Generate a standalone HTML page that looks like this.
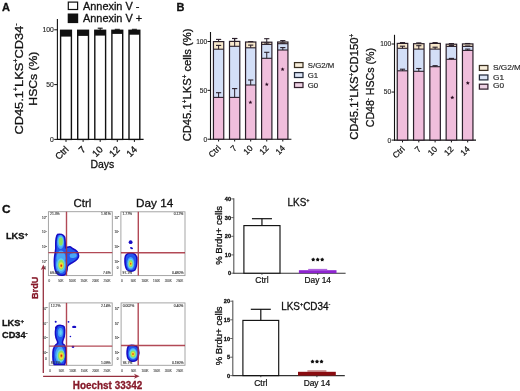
<!DOCTYPE html>
<html><head><meta charset="utf-8"><style>
html,body{margin:0;padding:0;background:#fff;}
svg{display:block;font-family:"Liberation Sans", sans-serif;filter:blur(0.35px);}
</style></head><body>
<svg width="520" height="391" viewBox="0 0 520 391">
<defs><filter id="bl" x="-20%" y="-20%" width="140%" height="140%"><feGaussianBlur stdDeviation="0.5"/></filter></defs>
<rect width="520" height="391" fill="#fff"/>
<text x="2" y="10.6" font-size="11" text-anchor="start" font-weight="bold" fill="#111"  stroke="#111" stroke-width="0.3">A</text>
<rect x="68.30" y="2.10" width="9.30" height="7.40" fill="#fff" stroke="#111" stroke-width="1.2"/>
<rect x="67.70" y="13.50" width="10.50" height="9.60" fill="#111" stroke="none" stroke-width="0"/>
<text transform="translate(83,9.5) scale(1.04,1)" font-size="10.5" fill="#111" stroke="#111" stroke-width="0.3">Annexin V -</text>
<text transform="translate(83,21.8) scale(1.04,1)" font-size="10.5" fill="#111" stroke="#111" stroke-width="0.3">Annexin V +</text>
<text transform="translate(23.2,79) rotate(-90) scale(1.105,1)" font-size="11.6" text-anchor="middle" fill="#111" stroke="#111" stroke-width="0.3">CD45.1<tspan baseline-shift="4.64" font-size="6.50">+</tspan>LKS<tspan baseline-shift="4.64" font-size="6.50">+</tspan>CD34<tspan baseline-shift="4.64" font-size="6.50">-</tspan></text>
<text transform="translate(37.4,78.6) rotate(-90) scale(1.05,1)" font-size="11.6" text-anchor="middle" fill="#111" stroke="#111" stroke-width="0.3">HSCs (%)</text>
<line x1="57.4" y1="19" x2="57.4" y2="139.9" stroke="#111" stroke-width="1.1"/>
<line x1="56.9" y1="139.4" x2="143.6" y2="139.4" stroke="#111" stroke-width="1.1"/>
<line x1="54.2" y1="29.8" x2="57.4" y2="29.8" stroke="#111" stroke-width="1"/>
<text x="53.8" y="32.2" font-size="6.8" text-anchor="end" font-weight="normal" fill="#222"  stroke="#222" stroke-width="0.12">100</text>
<line x1="54.2" y1="84.60000000000001" x2="57.4" y2="84.60000000000001" stroke="#111" stroke-width="1"/>
<text x="53.8" y="87.00000000000001" font-size="6.8" text-anchor="end" font-weight="normal" fill="#222"  stroke="#222" stroke-width="0.12">50</text>
<line x1="54.2" y1="139.4" x2="57.4" y2="139.4" stroke="#111" stroke-width="1"/>
<text x="53.8" y="141.8" font-size="6.8" text-anchor="end" font-weight="normal" fill="#222"  stroke="#222" stroke-width="0.12">0</text>
<rect x="60.60" y="30.30" width="10.80" height="109.10" fill="#fff" stroke="#111" stroke-width="1.4"/>
<rect x="60.60" y="30.30" width="10.80" height="6.30" fill="#111" stroke="none" stroke-width="0"/>
<line x1="66.0" y1="139.4" x2="66.0" y2="141.9" stroke="#111" stroke-width="1"/>
<rect x="77.70" y="30.30" width="10.80" height="109.10" fill="#fff" stroke="#111" stroke-width="1.4"/>
<rect x="77.70" y="30.30" width="10.80" height="5.60" fill="#111" stroke="none" stroke-width="0"/>
<line x1="83.1" y1="139.4" x2="83.1" y2="141.9" stroke="#111" stroke-width="1"/>
<rect x="94.80" y="30.30" width="10.80" height="109.10" fill="#fff" stroke="#111" stroke-width="1.4"/>
<rect x="94.80" y="30.30" width="10.80" height="5.30" fill="#111" stroke="none" stroke-width="0"/>
<line x1="100.2" y1="139.4" x2="100.2" y2="141.9" stroke="#111" stroke-width="1"/>
<rect x="111.90" y="30.30" width="10.80" height="109.10" fill="#fff" stroke="#111" stroke-width="1.4"/>
<rect x="111.90" y="30.30" width="10.80" height="3.60" fill="#111" stroke="none" stroke-width="0"/>
<line x1="117.30000000000001" y1="139.4" x2="117.30000000000001" y2="141.9" stroke="#111" stroke-width="1"/>
<rect x="129.00" y="30.30" width="10.80" height="109.10" fill="#fff" stroke="#111" stroke-width="1.4"/>
<rect x="129.00" y="30.30" width="10.80" height="4.40" fill="#111" stroke="none" stroke-width="0"/>
<line x1="134.4" y1="139.4" x2="134.4" y2="141.9" stroke="#111" stroke-width="1"/>
<line x1="100.2" y1="28.2" x2="100.2" y2="30.5" stroke="#111" stroke-width="1"/>
<line x1="97.7" y1="28.2" x2="102.7" y2="28.2" stroke="#111" stroke-width="1.1"/>
<line x1="114.80000000000001" y1="29.3" x2="119.80000000000001" y2="29.3" stroke="#111" stroke-width="1.0"/>
<line x1="131.9" y1="29.3" x2="136.9" y2="29.3" stroke="#111" stroke-width="1.0"/>
<text transform="translate(69.2,150.0) rotate(-45)" font-size="9.4" text-anchor="end" fill="#111" stroke="#111" stroke-width="0.3">Ctrl</text>
<text transform="translate(86.3,150.0) rotate(-45)" font-size="9.4" text-anchor="end" fill="#111" stroke="#111" stroke-width="0.3">7</text>
<text transform="translate(103.4,150.0) rotate(-45)" font-size="9.4" text-anchor="end" fill="#111" stroke="#111" stroke-width="0.3">10</text>
<text transform="translate(120.5,150.0) rotate(-45)" font-size="9.4" text-anchor="end" fill="#111" stroke="#111" stroke-width="0.3">12</text>
<text transform="translate(137.6,150.0) rotate(-45)" font-size="9.4" text-anchor="end" fill="#111" stroke="#111" stroke-width="0.3">14</text>
<text transform="translate(102.3,168.1) scale(0.97,1)" font-size="10.8" text-anchor="middle" fill="#111" stroke="#111" stroke-width="0.3">Days</text>
<text x="176.6" y="10.7" font-size="11" text-anchor="start" font-weight="bold" fill="#111"  stroke="#111" stroke-width="0.3">B</text>
<line x1="210.5" y1="32" x2="210.5" y2="139.7" stroke="#111" stroke-width="1.1"/>
<line x1="210.0" y1="139.2" x2="291.4" y2="139.2" stroke="#111" stroke-width="1.1"/>
<line x1="207.5" y1="41.5" x2="210.5" y2="41.5" stroke="#111" stroke-width="1"/>
<text x="207.2" y="43.9" font-size="6.6" text-anchor="end" font-weight="normal" fill="#222"  stroke="#222" stroke-width="0.12">100</text>
<line x1="207.5" y1="90.35" x2="210.5" y2="90.35" stroke="#111" stroke-width="1"/>
<text x="207.2" y="92.75" font-size="6.6" text-anchor="end" font-weight="normal" fill="#222"  stroke="#222" stroke-width="0.12">50</text>
<line x1="207.5" y1="139.2" x2="210.5" y2="139.2" stroke="#111" stroke-width="1"/>
<text x="207.2" y="141.6" font-size="6.6" text-anchor="end" font-weight="normal" fill="#222"  stroke="#222" stroke-width="0.12">0</text>
<line x1="218.6" y1="139.2" x2="218.6" y2="141.5" stroke="#111" stroke-width="1"/>
<text transform="translate(221.3,148.7) rotate(-45)" font-size="8.4" text-anchor="end" fill="#111" stroke="#111" stroke-width="0.22">Ctrl</text>
<line x1="234.65" y1="139.2" x2="234.65" y2="141.5" stroke="#111" stroke-width="1"/>
<text transform="translate(237.3,148.7) rotate(-45)" font-size="8.4" text-anchor="end" fill="#111" stroke="#111" stroke-width="0.22">7</text>
<line x1="250.7" y1="139.2" x2="250.7" y2="141.5" stroke="#111" stroke-width="1"/>
<text transform="translate(253.4,148.7) rotate(-45)" font-size="8.4" text-anchor="end" fill="#111" stroke="#111" stroke-width="0.22">10</text>
<line x1="266.75" y1="139.2" x2="266.75" y2="141.5" stroke="#111" stroke-width="1"/>
<text transform="translate(269.4,148.7) rotate(-45)" font-size="8.4" text-anchor="end" fill="#111" stroke="#111" stroke-width="0.22">12</text>
<line x1="282.8" y1="139.2" x2="282.8" y2="141.5" stroke="#111" stroke-width="1"/>
<text transform="translate(285.5,148.7) rotate(-45)" font-size="8.4" text-anchor="end" fill="#111" stroke="#111" stroke-width="0.22">14</text>
<text transform="translate(191.1,84.9) rotate(-90) scale(1.004,1)" font-size="11.2" text-anchor="middle" fill="#111" stroke="#111" stroke-width="0.3">CD45.1<tspan baseline-shift="4.48" font-size="6.27">+</tspan>LKS<tspan baseline-shift="4.48" font-size="6.27">+</tspan> cells (%)</text>
<rect x="213.45" y="97.40" width="10.30" height="41.80" fill="#f0bedc" stroke="none" stroke-width="0"/>
<rect x="213.45" y="49.20" width="10.30" height="48.20" fill="#d3dff7" stroke="none" stroke-width="0"/>
<rect x="213.45" y="41.60" width="10.30" height="7.60" fill="#f7e8cc" stroke="none" stroke-width="0"/>
<line x1="213.45" y1="97.4" x2="223.75" y2="97.4" stroke="#2a1f2a" stroke-width="1.1"/>
<line x1="213.45" y1="49.2" x2="223.75" y2="49.2" stroke="#2a1f2a" stroke-width="1.1"/>
<rect x="213.45" y="41.60" width="10.30" height="97.60" fill="none" stroke="#2a1f2a" stroke-width="1.2"/>
<line x1="218.6" y1="92.7" x2="218.6" y2="97.4" stroke="#2a1f2a" stroke-width="1.0"/>
<line x1="216.0" y1="92.7" x2="221.2" y2="92.7" stroke="#2a1f2a" stroke-width="1.1"/>
<line x1="218.6" y1="45.4" x2="218.6" y2="49.2" stroke="#2a1f2a" stroke-width="1.0"/>
<line x1="216.0" y1="45.4" x2="221.2" y2="45.4" stroke="#2a1f2a" stroke-width="1.1"/>
<line x1="218.6" y1="39.4" x2="218.6" y2="41.6" stroke="#2a1f2a" stroke-width="1.0"/>
<line x1="216.0" y1="39.4" x2="221.2" y2="39.4" stroke="#2a1f2a" stroke-width="1.1"/>
<rect x="229.50" y="97.40" width="10.30" height="41.80" fill="#f0bedc" stroke="none" stroke-width="0"/>
<rect x="229.50" y="46.30" width="10.30" height="51.10" fill="#d3dff7" stroke="none" stroke-width="0"/>
<rect x="229.50" y="41.40" width="10.30" height="4.90" fill="#f7e8cc" stroke="none" stroke-width="0"/>
<line x1="229.5" y1="97.4" x2="239.8" y2="97.4" stroke="#2a1f2a" stroke-width="1.1"/>
<line x1="229.5" y1="46.3" x2="239.8" y2="46.3" stroke="#2a1f2a" stroke-width="1.1"/>
<rect x="229.50" y="41.40" width="10.30" height="97.80" fill="none" stroke="#2a1f2a" stroke-width="1.2"/>
<line x1="234.65" y1="88.6" x2="234.65" y2="97.4" stroke="#2a1f2a" stroke-width="1.0"/>
<line x1="232.05" y1="88.6" x2="237.25" y2="88.6" stroke="#2a1f2a" stroke-width="1.1"/>
<line x1="234.65" y1="38.5" x2="234.65" y2="46.3" stroke="#2a1f2a" stroke-width="1.0"/>
<line x1="232.05" y1="38.5" x2="237.25" y2="38.5" stroke="#2a1f2a" stroke-width="1.1"/>
<line x1="234.65" y1="38.5" x2="234.65" y2="41.4" stroke="#2a1f2a" stroke-width="1.0"/>
<line x1="232.05" y1="38.5" x2="237.25" y2="38.5" stroke="#2a1f2a" stroke-width="1.1"/>
<rect x="245.55" y="85.00" width="10.30" height="54.20" fill="#f0bedc" stroke="none" stroke-width="0"/>
<rect x="245.55" y="47.80" width="10.30" height="37.20" fill="#d3dff7" stroke="none" stroke-width="0"/>
<rect x="245.55" y="42.00" width="10.30" height="5.80" fill="#f7e8cc" stroke="none" stroke-width="0"/>
<line x1="245.54999999999998" y1="85.0" x2="255.85" y2="85.0" stroke="#2a1f2a" stroke-width="1.1"/>
<line x1="245.54999999999998" y1="47.8" x2="255.85" y2="47.8" stroke="#2a1f2a" stroke-width="1.1"/>
<rect x="245.55" y="42.00" width="10.30" height="97.20" fill="none" stroke="#2a1f2a" stroke-width="1.2"/>
<line x1="250.7" y1="80.0" x2="250.7" y2="85.0" stroke="#2a1f2a" stroke-width="1.0"/>
<line x1="248.1" y1="80.0" x2="253.29999999999998" y2="80.0" stroke="#2a1f2a" stroke-width="1.1"/>
<line x1="250.7" y1="45.1" x2="250.7" y2="47.8" stroke="#2a1f2a" stroke-width="1.0"/>
<line x1="248.1" y1="45.1" x2="253.29999999999998" y2="45.1" stroke="#2a1f2a" stroke-width="1.1"/>
<line x1="250.7" y1="41.6" x2="250.7" y2="42.0" stroke="#2a1f2a" stroke-width="1.0"/>
<line x1="248.1" y1="41.6" x2="253.29999999999998" y2="41.6" stroke="#2a1f2a" stroke-width="1.1"/>
<rect x="261.60" y="58.30" width="10.30" height="80.90" fill="#f0bedc" stroke="none" stroke-width="0"/>
<rect x="261.60" y="44.40" width="10.30" height="13.90" fill="#d3dff7" stroke="none" stroke-width="0"/>
<rect x="261.60" y="42.20" width="10.30" height="2.20" fill="#f7e8cc" stroke="none" stroke-width="0"/>
<line x1="261.6" y1="58.3" x2="271.90000000000003" y2="58.3" stroke="#2a1f2a" stroke-width="1.1"/>
<line x1="261.6" y1="44.4" x2="271.90000000000003" y2="44.4" stroke="#2a1f2a" stroke-width="1.1"/>
<rect x="261.60" y="42.20" width="10.30" height="97.00" fill="none" stroke="#2a1f2a" stroke-width="1.2"/>
<line x1="266.75" y1="52.3" x2="266.75" y2="58.3" stroke="#2a1f2a" stroke-width="1.0"/>
<line x1="264.15" y1="52.3" x2="269.35" y2="52.3" stroke="#2a1f2a" stroke-width="1.1"/>
<line x1="266.75" y1="43.0" x2="266.75" y2="44.4" stroke="#2a1f2a" stroke-width="1.0"/>
<line x1="264.15" y1="43.0" x2="269.35" y2="43.0" stroke="#2a1f2a" stroke-width="1.1"/>
<line x1="266.75" y1="38.7" x2="266.75" y2="42.2" stroke="#2a1f2a" stroke-width="1.0"/>
<line x1="264.15" y1="38.7" x2="269.35" y2="38.7" stroke="#2a1f2a" stroke-width="1.1"/>
<rect x="277.65" y="50.00" width="10.30" height="89.20" fill="#f0bedc" stroke="none" stroke-width="0"/>
<rect x="277.65" y="43.70" width="10.30" height="6.30" fill="#d3dff7" stroke="none" stroke-width="0"/>
<rect x="277.65" y="42.00" width="10.30" height="1.70" fill="#f7e8cc" stroke="none" stroke-width="0"/>
<line x1="277.65000000000003" y1="50.0" x2="287.95000000000005" y2="50.0" stroke="#2a1f2a" stroke-width="1.1"/>
<line x1="277.65000000000003" y1="43.7" x2="287.95000000000005" y2="43.7" stroke="#2a1f2a" stroke-width="1.1"/>
<rect x="277.65" y="42.00" width="10.30" height="97.20" fill="none" stroke="#2a1f2a" stroke-width="1.2"/>
<line x1="282.8" y1="47.6" x2="282.8" y2="50.0" stroke="#2a1f2a" stroke-width="1.0"/>
<line x1="280.2" y1="47.6" x2="285.40000000000003" y2="47.6" stroke="#2a1f2a" stroke-width="1.1"/>
<line x1="282.8" y1="43.0" x2="282.8" y2="43.7" stroke="#2a1f2a" stroke-width="1.0"/>
<line x1="280.2" y1="43.0" x2="285.40000000000003" y2="43.0" stroke="#2a1f2a" stroke-width="1.1"/>
<line x1="282.8" y1="40.6" x2="282.8" y2="42.0" stroke="#2a1f2a" stroke-width="1.0"/>
<line x1="280.2" y1="40.6" x2="285.40000000000003" y2="40.6" stroke="#2a1f2a" stroke-width="1.1"/>
<polygon points="250.40,100.30 250.96,101.63 252.40,101.75 251.30,102.69 251.63,104.10 250.40,103.35 249.17,104.10 249.50,102.69 248.40,101.75 249.84,101.63" fill="#2a0c22"/>
<polygon points="266.80,82.30 267.36,83.63 268.80,83.75 267.70,84.69 268.03,86.10 266.80,85.35 265.57,86.10 265.90,84.69 264.80,83.75 266.24,83.63" fill="#2a0c22"/>
<polygon points="282.60,67.20 283.16,68.53 284.60,68.65 283.50,69.59 283.83,71.00 282.60,70.25 281.37,71.00 281.70,69.59 280.60,68.65 282.04,68.53" fill="#2a0c22"/>
<rect x="294.50" y="62.60" width="8.50" height="4.90" fill="#f8eedb" stroke="#3a3022" stroke-width="1.25"/>
<text transform="translate(307.8,67.8) scale(1.04,1)" font-size="7.5" fill="#1e1e1e" stroke="#1e1e1e" stroke-width="0.15">S/G2/M</text>
<rect x="294.50" y="72.60" width="8.50" height="4.90" fill="#dce5f6" stroke="#222a3a" stroke-width="1.25"/>
<text transform="translate(307.8,77.6) scale(1.04,1)" font-size="7.5" fill="#1e1e1e" stroke="#1e1e1e" stroke-width="0.15">G1</text>
<rect x="294.50" y="82.60" width="8.50" height="4.90" fill="#eed2e4" stroke="#33202e" stroke-width="1.25"/>
<text transform="translate(307.8,87.6) scale(1.04,1)" font-size="7.5" fill="#1e1e1e" stroke="#1e1e1e" stroke-width="0.15">G0</text>
<line x1="394.5" y1="34.8" x2="394.5" y2="140.6" stroke="#111" stroke-width="1.1"/>
<line x1="394.0" y1="140.1" x2="476" y2="140.1" stroke="#111" stroke-width="1.1"/>
<line x1="391.5" y1="44.0" x2="394.5" y2="44.0" stroke="#111" stroke-width="1"/>
<text x="391.2" y="46.4" font-size="6.6" text-anchor="end" font-weight="normal" fill="#222"  stroke="#222" stroke-width="0.12">100</text>
<line x1="391.5" y1="92.05" x2="394.5" y2="92.05" stroke="#111" stroke-width="1"/>
<text x="391.2" y="94.45" font-size="6.6" text-anchor="end" font-weight="normal" fill="#222"  stroke="#222" stroke-width="0.12">50</text>
<line x1="391.5" y1="140.1" x2="394.5" y2="140.1" stroke="#111" stroke-width="1"/>
<text x="391.2" y="142.5" font-size="6.6" text-anchor="end" font-weight="normal" fill="#222"  stroke="#222" stroke-width="0.12">0</text>
<line x1="402.5" y1="140.1" x2="402.5" y2="142.4" stroke="#111" stroke-width="1"/>
<text transform="translate(405.2,149.6) rotate(-45)" font-size="8.4" text-anchor="end" fill="#111" stroke="#111" stroke-width="0.22">Ctrl</text>
<line x1="418.8" y1="140.1" x2="418.8" y2="142.4" stroke="#111" stroke-width="1"/>
<text transform="translate(421.5,149.6) rotate(-45)" font-size="8.4" text-anchor="end" fill="#111" stroke="#111" stroke-width="0.22">7</text>
<line x1="435.1" y1="140.1" x2="435.1" y2="142.4" stroke="#111" stroke-width="1"/>
<text transform="translate(437.8,149.6) rotate(-45)" font-size="8.4" text-anchor="end" fill="#111" stroke="#111" stroke-width="0.22">10</text>
<line x1="451.4" y1="140.1" x2="451.4" y2="142.4" stroke="#111" stroke-width="1"/>
<text transform="translate(454.1,149.6) rotate(-45)" font-size="8.4" text-anchor="end" fill="#111" stroke="#111" stroke-width="0.22">12</text>
<line x1="467.7" y1="140.1" x2="467.7" y2="142.4" stroke="#111" stroke-width="1"/>
<text transform="translate(470.4,149.6) rotate(-45)" font-size="8.4" text-anchor="end" fill="#111" stroke="#111" stroke-width="0.22">14</text>
<text transform="translate(357.7,86.8) rotate(-90) scale(1.01,1)" font-size="11.2" text-anchor="middle" fill="#111" stroke="#111" stroke-width="0.3">CD45.1<tspan baseline-shift="4.48" font-size="6.27">+</tspan>LKS<tspan baseline-shift="4.48" font-size="6.27">+</tspan>CD150<tspan baseline-shift="4.48" font-size="6.27">+</tspan></text>
<text transform="translate(374.0,87.6) rotate(-90) scale(0.95,1)" font-size="11.2" text-anchor="middle" fill="#111" stroke="#111" stroke-width="0.3">CD48<tspan baseline-shift="4.48" font-size="6.27">-</tspan> HSCs (%)</text>
<rect x="397.25" y="70.80" width="10.50" height="69.30" fill="#f0bedc" stroke="none" stroke-width="0"/>
<rect x="397.25" y="48.30" width="10.50" height="22.50" fill="#d3dff7" stroke="none" stroke-width="0"/>
<rect x="397.25" y="43.40" width="10.50" height="4.90" fill="#f7e8cc" stroke="none" stroke-width="0"/>
<line x1="397.25" y1="70.8" x2="407.75" y2="70.8" stroke="#2a1f2a" stroke-width="1.1"/>
<line x1="397.25" y1="48.3" x2="407.75" y2="48.3" stroke="#2a1f2a" stroke-width="1.1"/>
<rect x="397.25" y="43.40" width="10.50" height="96.70" fill="none" stroke="#2a1f2a" stroke-width="1.2"/>
<line x1="402.5" y1="69.2" x2="402.5" y2="70.8" stroke="#2a1f2a" stroke-width="1.0"/>
<line x1="399.9" y1="69.2" x2="405.1" y2="69.2" stroke="#2a1f2a" stroke-width="1.1"/>
<line x1="402.5" y1="46.2" x2="402.5" y2="48.3" stroke="#2a1f2a" stroke-width="1.0"/>
<line x1="399.9" y1="46.2" x2="405.1" y2="46.2" stroke="#2a1f2a" stroke-width="1.1"/>
<line x1="402.5" y1="42.6" x2="402.5" y2="43.4" stroke="#2a1f2a" stroke-width="1.0"/>
<line x1="399.9" y1="42.6" x2="405.1" y2="42.6" stroke="#2a1f2a" stroke-width="1.1"/>
<rect x="413.55" y="71.30" width="10.50" height="68.80" fill="#f0bedc" stroke="none" stroke-width="0"/>
<rect x="413.55" y="49.10" width="10.50" height="22.20" fill="#d3dff7" stroke="none" stroke-width="0"/>
<rect x="413.55" y="43.70" width="10.50" height="5.40" fill="#f7e8cc" stroke="none" stroke-width="0"/>
<line x1="413.55" y1="71.3" x2="424.05" y2="71.3" stroke="#2a1f2a" stroke-width="1.1"/>
<line x1="413.55" y1="49.1" x2="424.05" y2="49.1" stroke="#2a1f2a" stroke-width="1.1"/>
<rect x="413.55" y="43.70" width="10.50" height="96.40" fill="none" stroke="#2a1f2a" stroke-width="1.2"/>
<line x1="418.8" y1="68.5" x2="418.8" y2="71.3" stroke="#2a1f2a" stroke-width="1.0"/>
<line x1="416.2" y1="68.5" x2="421.40000000000003" y2="68.5" stroke="#2a1f2a" stroke-width="1.1"/>
<line x1="418.8" y1="45.7" x2="418.8" y2="49.1" stroke="#2a1f2a" stroke-width="1.0"/>
<line x1="416.2" y1="45.7" x2="421.40000000000003" y2="45.7" stroke="#2a1f2a" stroke-width="1.1"/>
<line x1="418.8" y1="42.9" x2="418.8" y2="43.7" stroke="#2a1f2a" stroke-width="1.0"/>
<line x1="416.2" y1="42.9" x2="421.40000000000003" y2="42.9" stroke="#2a1f2a" stroke-width="1.1"/>
<rect x="429.85" y="66.70" width="10.50" height="73.40" fill="#f0bedc" stroke="none" stroke-width="0"/>
<rect x="429.85" y="49.10" width="10.50" height="17.60" fill="#d3dff7" stroke="none" stroke-width="0"/>
<rect x="429.85" y="43.40" width="10.50" height="5.70" fill="#f7e8cc" stroke="none" stroke-width="0"/>
<line x1="429.85" y1="66.7" x2="440.35" y2="66.7" stroke="#2a1f2a" stroke-width="1.1"/>
<line x1="429.85" y1="49.1" x2="440.35" y2="49.1" stroke="#2a1f2a" stroke-width="1.1"/>
<rect x="429.85" y="43.40" width="10.50" height="96.70" fill="none" stroke="#2a1f2a" stroke-width="1.2"/>
<line x1="435.1" y1="65.7" x2="435.1" y2="66.7" stroke="#2a1f2a" stroke-width="1.0"/>
<line x1="432.5" y1="65.7" x2="437.70000000000005" y2="65.7" stroke="#2a1f2a" stroke-width="1.1"/>
<line x1="435.1" y1="47.2" x2="435.1" y2="49.1" stroke="#2a1f2a" stroke-width="1.0"/>
<line x1="432.5" y1="47.2" x2="437.70000000000005" y2="47.2" stroke="#2a1f2a" stroke-width="1.1"/>
<line x1="435.1" y1="42.6" x2="435.1" y2="43.4" stroke="#2a1f2a" stroke-width="1.0"/>
<line x1="432.5" y1="42.6" x2="437.70000000000005" y2="42.6" stroke="#2a1f2a" stroke-width="1.1"/>
<rect x="446.15" y="59.30" width="10.50" height="80.80" fill="#f0bedc" stroke="none" stroke-width="0"/>
<rect x="446.15" y="46.40" width="10.50" height="12.90" fill="#d3dff7" stroke="none" stroke-width="0"/>
<rect x="446.15" y="44.20" width="10.50" height="2.20" fill="#f7e8cc" stroke="none" stroke-width="0"/>
<line x1="446.15" y1="59.3" x2="456.65" y2="59.3" stroke="#2a1f2a" stroke-width="1.1"/>
<line x1="446.15" y1="46.4" x2="456.65" y2="46.4" stroke="#2a1f2a" stroke-width="1.1"/>
<rect x="446.15" y="44.20" width="10.50" height="95.90" fill="none" stroke="#2a1f2a" stroke-width="1.2"/>
<line x1="451.4" y1="58.4" x2="451.4" y2="59.3" stroke="#2a1f2a" stroke-width="1.0"/>
<line x1="448.79999999999995" y1="58.4" x2="454.0" y2="58.4" stroke="#2a1f2a" stroke-width="1.1"/>
<line x1="451.4" y1="45.6" x2="451.4" y2="46.4" stroke="#2a1f2a" stroke-width="1.0"/>
<line x1="448.79999999999995" y1="45.6" x2="454.0" y2="45.6" stroke="#2a1f2a" stroke-width="1.1"/>
<line x1="451.4" y1="43.6" x2="451.4" y2="44.2" stroke="#2a1f2a" stroke-width="1.0"/>
<line x1="448.79999999999995" y1="43.6" x2="454.0" y2="43.6" stroke="#2a1f2a" stroke-width="1.1"/>
<rect x="462.45" y="50.40" width="10.50" height="89.70" fill="#f0bedc" stroke="none" stroke-width="0"/>
<rect x="462.45" y="46.40" width="10.50" height="4.00" fill="#d3dff7" stroke="none" stroke-width="0"/>
<rect x="462.45" y="43.90" width="10.50" height="2.50" fill="#f7e8cc" stroke="none" stroke-width="0"/>
<line x1="462.45" y1="50.4" x2="472.95" y2="50.4" stroke="#2a1f2a" stroke-width="1.1"/>
<line x1="462.45" y1="46.4" x2="472.95" y2="46.4" stroke="#2a1f2a" stroke-width="1.1"/>
<rect x="462.45" y="43.90" width="10.50" height="96.20" fill="none" stroke="#2a1f2a" stroke-width="1.2"/>
<line x1="467.7" y1="49.1" x2="467.7" y2="50.4" stroke="#2a1f2a" stroke-width="1.0"/>
<line x1="465.09999999999997" y1="49.1" x2="470.3" y2="49.1" stroke="#2a1f2a" stroke-width="1.1"/>
<line x1="467.7" y1="46.0" x2="467.7" y2="46.4" stroke="#2a1f2a" stroke-width="1.0"/>
<line x1="465.09999999999997" y1="46.0" x2="470.3" y2="46.0" stroke="#2a1f2a" stroke-width="1.1"/>
<line x1="467.7" y1="43.5" x2="467.7" y2="43.9" stroke="#2a1f2a" stroke-width="1.0"/>
<line x1="465.09999999999997" y1="43.5" x2="470.3" y2="43.5" stroke="#2a1f2a" stroke-width="1.1"/>
<polygon points="452.30,95.50 452.86,96.83 454.30,96.95 453.20,97.89 453.53,99.30 452.30,98.55 451.07,99.30 451.40,97.89 450.30,96.95 451.74,96.83" fill="#2a0c22"/>
<polygon points="467.80,81.00 468.36,82.33 469.80,82.45 468.70,83.39 469.03,84.80 467.80,84.05 466.57,84.80 466.90,83.39 465.80,82.45 467.24,82.33" fill="#2a0c22"/>
<rect x="479.40" y="65.50" width="8.50" height="4.90" fill="#f8eedb" stroke="#3a3022" stroke-width="1.25"/>
<text transform="translate(493.0,70.3) scale(1.06,1)" font-size="7.8" fill="#1e1e1e" stroke="#1e1e1e" stroke-width="0.15">S/G2/M</text>
<rect x="479.40" y="75.00" width="8.50" height="4.90" fill="#dce5f6" stroke="#222a3a" stroke-width="1.25"/>
<text transform="translate(493.0,79.6) scale(1.06,1)" font-size="7.8" fill="#1e1e1e" stroke="#1e1e1e" stroke-width="0.15">G1</text>
<rect x="479.40" y="84.20" width="8.50" height="4.90" fill="#eed2e4" stroke="#33202e" stroke-width="1.25"/>
<text transform="translate(493.0,88.3) scale(1.06,1)" font-size="7.8" fill="#1e1e1e" stroke="#1e1e1e" stroke-width="0.15">G0</text>
<text transform="translate(1.9,212.6) scale(1.08,1)" font-size="11" font-weight="bold" fill="#111" stroke="#111" stroke-width="0.3">C</text>
<text x="6.0" y="238.7" font-size="9.2" text-anchor="start" font-weight="bold" fill="#111"  stroke="#111" stroke-width="0.3">LKS<tspan baseline-shift="3.31" font-size="6.07">+</tspan></text>
<text x="2.0" y="325.8" font-size="9.2" text-anchor="start" font-weight="bold" fill="#111"  stroke="#111" stroke-width="0.3">LKS<tspan baseline-shift="3.31" font-size="6.07">+</tspan></text>
<text x="2.0" y="338.1" font-size="9.2" text-anchor="start" font-weight="bold" fill="#111"  stroke="#111" stroke-width="0.3">CD34<tspan baseline-shift="3.31" font-size="6.07">-</tspan></text>
<text x="82.4" y="206.5" font-size="11.4" text-anchor="middle" font-weight="normal" fill="#111"  stroke="#111" stroke-width="0.3">Ctrl</text>
<text transform="translate(154.7,206.7) scale(1.03,1)" font-size="11.4" text-anchor="middle" fill="#111" stroke="#111" stroke-width="0.3">Day 14</text>
<line x1="43.3" y1="373" x2="43.3" y2="267" stroke="#96303f" stroke-width="1.3"/>
<path d="M43.3 264.5 L40.8 270 L43.3 268.6 L45.8 270 Z" fill="#96303f"/>
<text transform="translate(37.6,287.8) rotate(-90)" font-size="9.2" font-weight="bold" text-anchor="middle" fill="#861a2a" stroke="#861a2a" stroke-width="0.3">BrdU</text>
<line x1="43.1" y1="376.3" x2="137" y2="376.3" stroke="#96303f" stroke-width="1.3"/>
<path d="M139.6 376.3 L134 373.8 L135.5 376.3 L134 378.8 Z" fill="#96303f"/>
<text transform="translate(72.8,388.6) scale(0.91,1)" font-size="10.9" font-weight="bold" fill="#861a2a" stroke="#861a2a" stroke-width="0.3">Hoechst 33342</text>
<rect x="48.40" y="211.70" width="63.90" height="63.90" fill="#fff" stroke="#9c9c9c" stroke-width="0.9"/>
<g filter="url(#bl)">
<path d="M57.6 234.4 C60 233.7 63.5 234.6 64.6 237 C65.4 240 65.2 245 65.6 247.8 C67 247.6 68.5 246.6 70 246.8 C71.5 247 71.6 248.3 73 248.8 C76 250 78.6 252.5 78.6 256 C78.6 259.5 75 261 71.5 263 C69.5 264.2 68 265 67.4 266.5 C67.2 270 66.5 273.5 64.5 274.8 C62 275.6 58.5 275.2 57 273.5 C55 271.5 54.2 264 54.4 259 C54.6 255 55.6 252 55.8 248 C55.6 243 55.4 237 57.6 234.4 Z" fill="#2458ee" stroke="#1408c4" stroke-width="1.5"/>
<ellipse cx="60.6" cy="242" rx="3.5" ry="7.0" fill="#4aa6f6"/>
<ellipse cx="73.2" cy="255.6" rx="3.6" ry="2.4" transform="rotate(-10 73.2 255.6)" fill="#4aa6f6"/>
<ellipse cx="61" cy="258" rx="4.6" ry="7.5" fill="#4aa6f6"/>
<ellipse cx="60.9" cy="265" rx="5.0" ry="8.0" fill="#4aa6f6"/>
<ellipse cx="60.8" cy="241.6" rx="2.5" ry="5.0" fill="#62d2f0"/>
<ellipse cx="60.8" cy="241.4" rx="2.0" ry="4.0" fill="#8ee060"/>
<ellipse cx="61" cy="264.6" rx="3.8" ry="6.4" fill="#62d2f0"/>
<ellipse cx="61.1" cy="264.8" rx="3.0" ry="5.0" fill="#8ee060"/>
<ellipse cx="61.2" cy="265.3" rx="2.0" ry="3.1" fill="#f2e23a"/>
<ellipse cx="61.3" cy="265.6" rx="1.2" ry="1.8" fill="#f09a20"/>
<ellipse cx="61.3" cy="265.7" rx="0.7" ry="1.0" fill="#d82810"/>
</g>
<g opacity="0.88">
<line x1="66.5" y1="211.7" x2="66.5" y2="275.6" stroke="#a8303f" stroke-width="1.4"/>
<line x1="48.4" y1="252.6" x2="112.3" y2="252.6" stroke="#a8303f" stroke-width="1.4"/>
</g>
<rect x="120.90" y="211.80" width="64.10" height="63.80" fill="#fff" stroke="#9c9c9c" stroke-width="0.9"/>
<g filter="url(#bl)">
<path d="M130.6 253.0 C134.5 252.8 137.2 255.5 137.0 259.5 C136.9 263 136.6 267.5 134.8 270 C133 271.8 128.6 271.6 127 269.6 C125.2 267.2 124.8 262.5 125.0 258.5 C125.2 255 127.2 253.1 130.6 253.0 Z" fill="#2458ee" stroke="#1408c4" stroke-width="1.5"/>
<ellipse cx="130.7" cy="263.2" rx="3.6" ry="6.3" fill="#4aa6f6"/>
<ellipse cx="130.7" cy="263.5" rx="2.8" ry="4.8" fill="#62d2f0"/>
<ellipse cx="130.7" cy="263.7" rx="2.1" ry="3.6" fill="#8ee060"/>
<ellipse cx="130.7" cy="263.7" rx="1.3" ry="2.2" fill="#f2e23a"/>
<ellipse cx="130.7" cy="263.7" rx="0.8" ry="1.2" fill="#f09a20"/>
<ellipse cx="130.7" cy="263.7" rx="0.45" ry="0.6" fill="#d82810"/>
<circle cx="130.6" cy="242.2" r="1.9" fill="#1408c4"/>
<ellipse cx="131.5" cy="248.1" rx="1.6" ry="0.9" transform="rotate(25 131.5 248.1)" fill="#1408c4"/>
</g>
<g opacity="0.88">
<line x1="138.3" y1="211.8" x2="138.3" y2="275.6" stroke="#a8303f" stroke-width="1.4"/>
<line x1="120.9" y1="252.7" x2="185.0" y2="252.7" stroke="#a8303f" stroke-width="1.4"/>
</g>
<rect x="49.20" y="302.90" width="63.00" height="62.40" fill="#fff" stroke="#9c9c9c" stroke-width="0.9"/>
<g filter="url(#bl)">
<path d="M57 326 C59 325 63 325 64.2 327 C65 330 64.8 336 63.4 339 C62.6 341 62 342 62.6 343.6 C64.6 344.6 66 347 66 352 C66 357 65.6 362 64.6 364.6 L54.2 364.6 C53 362 52.8 356 53 352 C53.2 348 55 345 57.6 343.4 C58 342 57.6 341 56.8 339.6 C55.6 337 55.4 331 55.8 328.5 C56 327.4 56.4 326.4 57 326 Z" fill="#2458ee" stroke="#1408c4" stroke-width="1.5"/>
<ellipse cx="60.4" cy="332.5" rx="2.5" ry="4.5" fill="#4aa6f6"/>
<ellipse cx="60.6" cy="332.5" rx="1.2" ry="2.5" fill="#62d2f0"/>
<ellipse cx="59.8" cy="355" rx="4.6" ry="8.5" fill="#4aa6f6"/>
<ellipse cx="60.6" cy="355.6" rx="3.9" ry="6.4" fill="#62d2f0"/>
<ellipse cx="61.2" cy="355.8" rx="3.3" ry="5.0" fill="#8ee060"/>
<ellipse cx="61.3" cy="355.8" rx="2.2" ry="3.4" fill="#f2e23a"/>
<ellipse cx="61.4" cy="355.8" rx="1.3" ry="2.0" fill="#f09a20"/>
<ellipse cx="61.4" cy="355.8" rx="0.7" ry="1.0" fill="#d82810"/>
<circle cx="55.7" cy="321.8" r="1.0" fill="#1408c4"/>
<circle cx="68.5" cy="321.8" r="0.9" fill="#1408c4"/>
<ellipse cx="74.2" cy="326.9" rx="2.1" ry="1.2" fill="#1408c4"/>
<circle cx="70.4" cy="336.5" r="0.8" fill="#1408c4"/>
<ellipse cx="73" cy="346.8" rx="1.4" ry="1.1" fill="#1408c4"/>
<circle cx="56.3" cy="327.6" r="1.2" fill="#1408c4"/>
</g>
<g opacity="0.88">
<line x1="66.5" y1="302.9" x2="66.5" y2="365.3" stroke="#a8303f" stroke-width="1.4"/>
<line x1="49.2" y1="346.1" x2="112.2" y2="346.1" stroke="#a8303f" stroke-width="1.4"/>
</g>
<rect x="121.10" y="302.90" width="63.90" height="62.40" fill="#fff" stroke="#9c9c9c" stroke-width="0.9"/>
<g filter="url(#bl)">
<path d="M129 345.6 C132 344.8 136.5 345.4 138.2 348 C139.2 351 138.8 355 138 357.5 C137 360.5 134 361.6 131.5 361.2 C128.6 360.6 127.2 357.6 127.1 354 C127 350.5 127.4 347 129 345.6 Z" fill="#2458ee" stroke="#1408c4" stroke-width="1.5"/>
<ellipse cx="133" cy="353.6" rx="4.2" ry="5.6" fill="#4aa6f6"/>
<ellipse cx="133" cy="353.8" rx="3.5" ry="4.6" fill="#62d2f0"/>
<ellipse cx="133" cy="354" rx="2.7" ry="3.6" fill="#8ee060"/>
<ellipse cx="133" cy="354.1" rx="1.7" ry="2.3" fill="#f2e23a"/>
<ellipse cx="133" cy="354.1" rx="1.0" ry="1.3" fill="#f09a20"/>
<ellipse cx="133" cy="354.1" rx="0.5" ry="0.7" fill="#d82810"/>
</g>
<g opacity="0.88">
<line x1="138.2" y1="302.9" x2="138.2" y2="365.3" stroke="#a8303f" stroke-width="1.4"/>
<line x1="121.1" y1="345.5" x2="185.0" y2="345.5" stroke="#a8303f" stroke-width="1.4"/>
</g>
<text x="49.3" y="281.8" font-size="3.0" text-anchor="middle" font-weight="normal" fill="#555"  stroke="#555" stroke-width="0.12">0</text>
<text x="60.849999999999994" y="281.8" font-size="3.0" text-anchor="middle" font-weight="normal" fill="#555"  stroke="#555" stroke-width="0.12">50K</text>
<text x="72.4" y="281.8" font-size="3.0" text-anchor="middle" font-weight="normal" fill="#555"  stroke="#555" stroke-width="0.12">100K</text>
<text x="83.95" y="281.8" font-size="3.0" text-anchor="middle" font-weight="normal" fill="#555"  stroke="#555" stroke-width="0.12">150K</text>
<text x="95.5" y="281.8" font-size="3.0" text-anchor="middle" font-weight="normal" fill="#555"  stroke="#555" stroke-width="0.12">200K</text>
<text x="107.05" y="281.8" font-size="3.0" text-anchor="middle" font-weight="normal" fill="#555"  stroke="#555" stroke-width="0.12">250K</text>
<text x="46.6" y="218.5" font-size="3.0" text-anchor="end" fill="#444" stroke="#444" stroke-width="0.12">10<tspan font-size="2.2" dy="-1.5">5</tspan></text>
<text x="46.6" y="233.3" font-size="3.0" text-anchor="end" fill="#444" stroke="#444" stroke-width="0.12">10<tspan font-size="2.2" dy="-1.5">4</tspan></text>
<text x="46.6" y="248.1" font-size="3.0" text-anchor="end" fill="#444" stroke="#444" stroke-width="0.12">10<tspan font-size="2.2" dy="-1.5">3</tspan></text>
<text x="46.6" y="262.9" font-size="3.0" text-anchor="end" fill="#444" stroke="#444" stroke-width="0.12">10<tspan font-size="2.2" dy="-1.5">2</tspan></text>
<text x="45.8" y="269.09999999999997" font-size="3.0" text-anchor="end" font-weight="normal" fill="#444"  stroke="#444" stroke-width="0.12">0</text>
<text x="121.80000000000001" y="281.8" font-size="3.0" text-anchor="middle" font-weight="normal" fill="#555"  stroke="#555" stroke-width="0.12">0</text>
<text x="133.3861502347418" y="281.8" font-size="3.0" text-anchor="middle" font-weight="normal" fill="#555"  stroke="#555" stroke-width="0.12">50K</text>
<text x="144.97230046948357" y="281.8" font-size="3.0" text-anchor="middle" font-weight="normal" fill="#555"  stroke="#555" stroke-width="0.12">100K</text>
<text x="156.55845070422538" y="281.8" font-size="3.0" text-anchor="middle" font-weight="normal" fill="#555"  stroke="#555" stroke-width="0.12">150K</text>
<text x="168.14460093896716" y="281.8" font-size="3.0" text-anchor="middle" font-weight="normal" fill="#555"  stroke="#555" stroke-width="0.12">200K</text>
<text x="179.73075117370894" y="281.8" font-size="3.0" text-anchor="middle" font-weight="normal" fill="#555"  stroke="#555" stroke-width="0.12">250K</text>
<text x="119.1" y="218.6" font-size="3.0" text-anchor="end" fill="#444" stroke="#444" stroke-width="0.12">10<tspan font-size="2.2" dy="-1.5">5</tspan></text>
<text x="119.1" y="233.4" font-size="3.0" text-anchor="end" fill="#444" stroke="#444" stroke-width="0.12">10<tspan font-size="2.2" dy="-1.5">4</tspan></text>
<text x="119.1" y="248.2" font-size="3.0" text-anchor="end" fill="#444" stroke="#444" stroke-width="0.12">10<tspan font-size="2.2" dy="-1.5">3</tspan></text>
<text x="119.1" y="263.0" font-size="3.0" text-anchor="end" fill="#444" stroke="#444" stroke-width="0.12">10<tspan font-size="2.2" dy="-1.5">2</tspan></text>
<text x="118.30000000000001" y="269.2" font-size="3.0" text-anchor="end" font-weight="normal" fill="#444"  stroke="#444" stroke-width="0.12">0</text>
<text x="50.1" y="371.5" font-size="3.0" text-anchor="middle" font-weight="normal" fill="#555"  stroke="#555" stroke-width="0.12">0</text>
<text x="61.48732394366198" y="371.5" font-size="3.0" text-anchor="middle" font-weight="normal" fill="#555"  stroke="#555" stroke-width="0.12">50K</text>
<text x="72.87464788732395" y="371.5" font-size="3.0" text-anchor="middle" font-weight="normal" fill="#555"  stroke="#555" stroke-width="0.12">100K</text>
<text x="84.26197183098591" y="371.5" font-size="3.0" text-anchor="middle" font-weight="normal" fill="#555"  stroke="#555" stroke-width="0.12">150K</text>
<text x="95.6492957746479" y="371.5" font-size="3.0" text-anchor="middle" font-weight="normal" fill="#555"  stroke="#555" stroke-width="0.12">200K</text>
<text x="107.03661971830986" y="371.5" font-size="3.0" text-anchor="middle" font-weight="normal" fill="#555"  stroke="#555" stroke-width="0.12">250K</text>
<text x="47.4" y="309.7" font-size="3.0" text-anchor="end" fill="#444" stroke="#444" stroke-width="0.12">10<tspan font-size="2.2" dy="-1.5">5</tspan></text>
<text x="47.4" y="324.5" font-size="3.0" text-anchor="end" fill="#444" stroke="#444" stroke-width="0.12">10<tspan font-size="2.2" dy="-1.5">4</tspan></text>
<text x="47.4" y="339.3" font-size="3.0" text-anchor="end" fill="#444" stroke="#444" stroke-width="0.12">10<tspan font-size="2.2" dy="-1.5">3</tspan></text>
<text x="47.4" y="354.1" font-size="3.0" text-anchor="end" fill="#444" stroke="#444" stroke-width="0.12">10<tspan font-size="2.2" dy="-1.5">2</tspan></text>
<text x="46.6" y="360.29999999999995" font-size="3.0" text-anchor="end" font-weight="normal" fill="#444"  stroke="#444" stroke-width="0.12">0</text>
<text x="122.0" y="371.5" font-size="3.0" text-anchor="middle" font-weight="normal" fill="#555"  stroke="#555" stroke-width="0.12">0</text>
<text x="133.55" y="371.5" font-size="3.0" text-anchor="middle" font-weight="normal" fill="#555"  stroke="#555" stroke-width="0.12">50K</text>
<text x="145.1" y="371.5" font-size="3.0" text-anchor="middle" font-weight="normal" fill="#555"  stroke="#555" stroke-width="0.12">100K</text>
<text x="156.65" y="371.5" font-size="3.0" text-anchor="middle" font-weight="normal" fill="#555"  stroke="#555" stroke-width="0.12">150K</text>
<text x="168.2" y="371.5" font-size="3.0" text-anchor="middle" font-weight="normal" fill="#555"  stroke="#555" stroke-width="0.12">200K</text>
<text x="179.75" y="371.5" font-size="3.0" text-anchor="middle" font-weight="normal" fill="#555"  stroke="#555" stroke-width="0.12">250K</text>
<text x="119.3" y="309.7" font-size="3.0" text-anchor="end" fill="#444" stroke="#444" stroke-width="0.12">10<tspan font-size="2.2" dy="-1.5">5</tspan></text>
<text x="119.3" y="324.5" font-size="3.0" text-anchor="end" fill="#444" stroke="#444" stroke-width="0.12">10<tspan font-size="2.2" dy="-1.5">4</tspan></text>
<text x="119.3" y="339.3" font-size="3.0" text-anchor="end" fill="#444" stroke="#444" stroke-width="0.12">10<tspan font-size="2.2" dy="-1.5">3</tspan></text>
<text x="119.3" y="354.1" font-size="3.0" text-anchor="end" fill="#444" stroke="#444" stroke-width="0.12">10<tspan font-size="2.2" dy="-1.5">2</tspan></text>
<text x="118.5" y="360.29999999999995" font-size="3.0" text-anchor="end" font-weight="normal" fill="#444"  stroke="#444" stroke-width="0.12">0</text>
<text x="50.0" y="215.29999999999998" font-size="3.4" text-anchor="start" font-weight="normal" fill="#3a3a3a"  stroke="#3a3a3a" stroke-width="0.12">21.3%</text>
<text x="110.7" y="215.29999999999998" font-size="3.4" text-anchor="end" font-weight="normal" fill="#3a3a3a"  stroke="#3a3a3a" stroke-width="0.12">1.91%</text>
<text x="50.0" y="274.20000000000005" font-size="3.4" text-anchor="start" font-weight="normal" fill="#3a3a3a"  stroke="#3a3a3a" stroke-width="0.12">69.0%</text>
<text x="110.7" y="274.20000000000005" font-size="3.4" text-anchor="end" font-weight="normal" fill="#3a3a3a"  stroke="#3a3a3a" stroke-width="0.12">7.6%</text>
<text x="122.5" y="215.4" font-size="3.4" text-anchor="start" font-weight="normal" fill="#3a3a3a"  stroke="#3a3a3a" stroke-width="0.12">1.77%</text>
<text x="183.4" y="215.4" font-size="3.4" text-anchor="end" font-weight="normal" fill="#3a3a3a"  stroke="#3a3a3a" stroke-width="0.12">0.12%</text>
<text x="122.5" y="274.20000000000005" font-size="3.4" text-anchor="start" font-weight="normal" fill="#3a3a3a"  stroke="#3a3a3a" stroke-width="0.12">97.1%</text>
<text x="183.4" y="274.20000000000005" font-size="3.4" text-anchor="end" font-weight="normal" fill="#3a3a3a"  stroke="#3a3a3a" stroke-width="0.12">0.480%</text>
<text x="50.800000000000004" y="306.5" font-size="3.4" text-anchor="start" font-weight="normal" fill="#3a3a3a"  stroke="#3a3a3a" stroke-width="0.12">12.2%</text>
<text x="110.60000000000001" y="306.5" font-size="3.4" text-anchor="end" font-weight="normal" fill="#3a3a3a"  stroke="#3a3a3a" stroke-width="0.12">2.14%</text>
<text x="50.800000000000004" y="363.90000000000003" font-size="3.4" text-anchor="start" font-weight="normal" fill="#3a3a3a"  stroke="#3a3a3a" stroke-width="0.12">82.7%</text>
<text x="110.60000000000001" y="363.90000000000003" font-size="3.4" text-anchor="end" font-weight="normal" fill="#3a3a3a"  stroke="#3a3a3a" stroke-width="0.12">1.09%</text>
<text x="122.69999999999999" y="306.5" font-size="3.4" text-anchor="start" font-weight="normal" fill="#3a3a3a"  stroke="#3a3a3a" stroke-width="0.12">0.002%</text>
<text x="183.4" y="306.5" font-size="3.4" text-anchor="end" font-weight="normal" fill="#3a3a3a"  stroke="#3a3a3a" stroke-width="0.12">0.40%</text>
<text x="122.69999999999999" y="363.90000000000003" font-size="3.4" text-anchor="start" font-weight="normal" fill="#3a3a3a"  stroke="#3a3a3a" stroke-width="0.12">93.7%</text>
<text x="183.4" y="363.90000000000003" font-size="3.4" text-anchor="end" font-weight="normal" fill="#3a3a3a"  stroke="#3a3a3a" stroke-width="0.12">0.190%</text>
<line x1="233.8" y1="198.3" x2="233.8" y2="273.7" stroke="#555" stroke-width="1.1"/>
<line x1="233.3" y1="273.2" x2="345.6" y2="273.2" stroke="#333" stroke-width="1.1"/>
<line x1="231.20000000000002" y1="198.9" x2="233.8" y2="198.9" stroke="#555" stroke-width="0.9"/>
<text x="231.10000000000002" y="200.9" font-size="5.6" text-anchor="end" font-weight="bold" fill="#111" stroke="#111" stroke-width="0.3">40</text>
<line x1="231.20000000000002" y1="217.6" x2="233.8" y2="217.6" stroke="#555" stroke-width="0.9"/>
<text x="231.10000000000002" y="219.6" font-size="5.6" text-anchor="end" font-weight="bold" fill="#111" stroke="#111" stroke-width="0.3">30</text>
<line x1="231.20000000000002" y1="236.3" x2="233.8" y2="236.3" stroke="#555" stroke-width="0.9"/>
<text x="231.10000000000002" y="238.3" font-size="5.6" text-anchor="end" font-weight="bold" fill="#111" stroke="#111" stroke-width="0.3">20</text>
<line x1="231.20000000000002" y1="254.9" x2="233.8" y2="254.9" stroke="#555" stroke-width="0.9"/>
<text x="231.10000000000002" y="256.9" font-size="5.6" text-anchor="end" font-weight="bold" fill="#111" stroke="#111" stroke-width="0.3">10</text>
<line x1="231.20000000000002" y1="273.2" x2="233.8" y2="273.2" stroke="#555" stroke-width="0.9"/>
<text x="231.10000000000002" y="275.2" font-size="5.6" text-anchor="end" font-weight="bold" fill="#111" stroke="#111" stroke-width="0.3">0</text>
<line x1="261.95000000000005" y1="218.7" x2="261.95000000000005" y2="225.6" stroke="#111" stroke-width="1.2"/>
<line x1="251.95000000000005" y1="218.7" x2="271.95000000000005" y2="218.7" stroke="#111" stroke-width="1.2"/>
<rect x="243.90" y="225.60" width="36.10" height="47.60" fill="#fff" stroke="#111" stroke-width="1.15"/>
<rect x="298.90" y="270.20" width="37.60" height="3.00" fill="#8e24d0" stroke="none" stroke-width="0"/>
<line x1="308.2" y1="269.4" x2="327.2" y2="269.4" stroke="#8e24d0" stroke-width="0.8"/>
<line x1="261.95000000000005" y1="273.2" x2="261.95000000000005" y2="274.8" stroke="#333" stroke-width="0.9"/>
<line x1="317.7" y1="273.2" x2="317.7" y2="274.8" stroke="#333" stroke-width="0.9"/>
<text x="261.95000000000005" y="283.4" font-size="8.5" text-anchor="middle" font-weight="normal" fill="#111"  stroke="#111" stroke-width="0.22">Ctrl</text>
<text x="317.7" y="283.3" font-size="8.4" text-anchor="middle" font-weight="normal" fill="#111"  stroke="#111" stroke-width="0.22">Day 14</text>
<polygon points="313.20,257.45 313.96,258.55 315.24,258.94 314.44,260.00 314.46,261.34 313.20,260.90 311.94,261.34 311.96,260.00 311.16,258.94 312.44,258.55" fill="#111"/>
<polygon points="317.70,257.45 318.46,258.55 319.74,258.94 318.94,260.00 318.96,261.34 317.70,260.90 316.44,261.34 316.46,260.00 315.66,258.94 316.94,258.55" fill="#111"/>
<polygon points="322.20,257.45 322.96,258.55 324.24,258.94 323.44,260.00 323.46,261.34 322.20,260.90 320.94,261.34 320.96,260.00 320.16,258.94 321.44,258.55" fill="#111"/>
<text transform="translate(287.6,205.9) scale(0.955,1)" font-size="10.4" fill="#111" stroke="#111" stroke-width="0.3">LKS<tspan baseline-shift="4.16" font-size="5.82">+</tspan></text>
<text transform="translate(221.7,235.4) rotate(-90)" font-size="9.6" text-anchor="middle" fill="#111" stroke="#111" stroke-width="0.3">% Brdu+ cells</text>
<line x1="232.8" y1="300.5" x2="232.8" y2="376.1" stroke="#555" stroke-width="1.1"/>
<line x1="232.3" y1="375.6" x2="344.8" y2="375.6" stroke="#333" stroke-width="1.1"/>
<line x1="230.20000000000002" y1="301.2" x2="232.8" y2="301.2" stroke="#555" stroke-width="0.9"/>
<text x="230.10000000000002" y="303.2" font-size="5.6" text-anchor="end" font-weight="bold" fill="#111" stroke="#111" stroke-width="0.3">20</text>
<line x1="230.20000000000002" y1="319.8" x2="232.8" y2="319.8" stroke="#555" stroke-width="0.9"/>
<text x="230.10000000000002" y="321.8" font-size="5.6" text-anchor="end" font-weight="bold" fill="#111" stroke="#111" stroke-width="0.3">15</text>
<line x1="230.20000000000002" y1="338.5" x2="232.8" y2="338.5" stroke="#555" stroke-width="0.9"/>
<text x="230.10000000000002" y="340.5" font-size="5.6" text-anchor="end" font-weight="bold" fill="#111" stroke="#111" stroke-width="0.3">10</text>
<line x1="230.20000000000002" y1="357.2" x2="232.8" y2="357.2" stroke="#555" stroke-width="0.9"/>
<text x="230.10000000000002" y="359.2" font-size="5.6" text-anchor="end" font-weight="bold" fill="#111" stroke="#111" stroke-width="0.3">5</text>
<line x1="230.20000000000002" y1="375.6" x2="232.8" y2="375.6" stroke="#555" stroke-width="0.9"/>
<text x="230.10000000000002" y="377.6" font-size="5.6" text-anchor="end" font-weight="bold" fill="#111" stroke="#111" stroke-width="0.3">0</text>
<line x1="260.8" y1="309.3" x2="260.8" y2="320.4" stroke="#111" stroke-width="1.2"/>
<line x1="250.8" y1="309.3" x2="270.8" y2="309.3" stroke="#111" stroke-width="1.2"/>
<rect x="242.90" y="320.40" width="35.80" height="55.20" fill="#fff" stroke="#111" stroke-width="1.15"/>
<rect x="298.00" y="371.80" width="37.80" height="3.80" fill="#8a0c10" stroke="none" stroke-width="0"/>
<line x1="307.4" y1="371.0" x2="326.4" y2="371.0" stroke="#8a0c10" stroke-width="0.8"/>
<line x1="260.8" y1="375.6" x2="260.8" y2="377.20000000000005" stroke="#333" stroke-width="0.9"/>
<line x1="316.9" y1="375.6" x2="316.9" y2="377.20000000000005" stroke="#333" stroke-width="0.9"/>
<text x="260.8" y="385.8" font-size="8.5" text-anchor="middle" font-weight="normal" fill="#111"  stroke="#111" stroke-width="0.22">Ctrl</text>
<text x="316.9" y="385.70000000000005" font-size="8.4" text-anchor="middle" font-weight="normal" fill="#111"  stroke="#111" stroke-width="0.22">Day 14</text>
<polygon points="312.50,359.45 313.26,360.55 314.54,360.94 313.74,362.00 313.76,363.34 312.50,362.90 311.24,363.34 311.26,362.00 310.46,360.94 311.74,360.55" fill="#111"/>
<polygon points="317.00,359.45 317.76,360.55 319.04,360.94 318.24,362.00 318.26,363.34 317.00,362.90 315.74,363.34 315.76,362.00 314.96,360.94 316.24,360.55" fill="#111"/>
<polygon points="321.50,359.45 322.26,360.55 323.54,360.94 322.74,362.00 322.76,363.34 321.50,362.90 320.24,363.34 320.26,362.00 319.46,360.94 320.74,360.55" fill="#111"/>
<text transform="translate(281.2,310.0) scale(0.955,1)" font-size="10.4" fill="#111" stroke="#111" stroke-width="0.3">LKS<tspan baseline-shift="4.16" font-size="5.82">+</tspan>CD34<tspan baseline-shift="4.16" font-size="5.82">-</tspan></text>
<text transform="translate(221.7,335.9) rotate(-90)" font-size="9.6" text-anchor="middle" fill="#111" stroke="#111" stroke-width="0.3">% Brdu+ cells</text>
</svg>
</body></html>
